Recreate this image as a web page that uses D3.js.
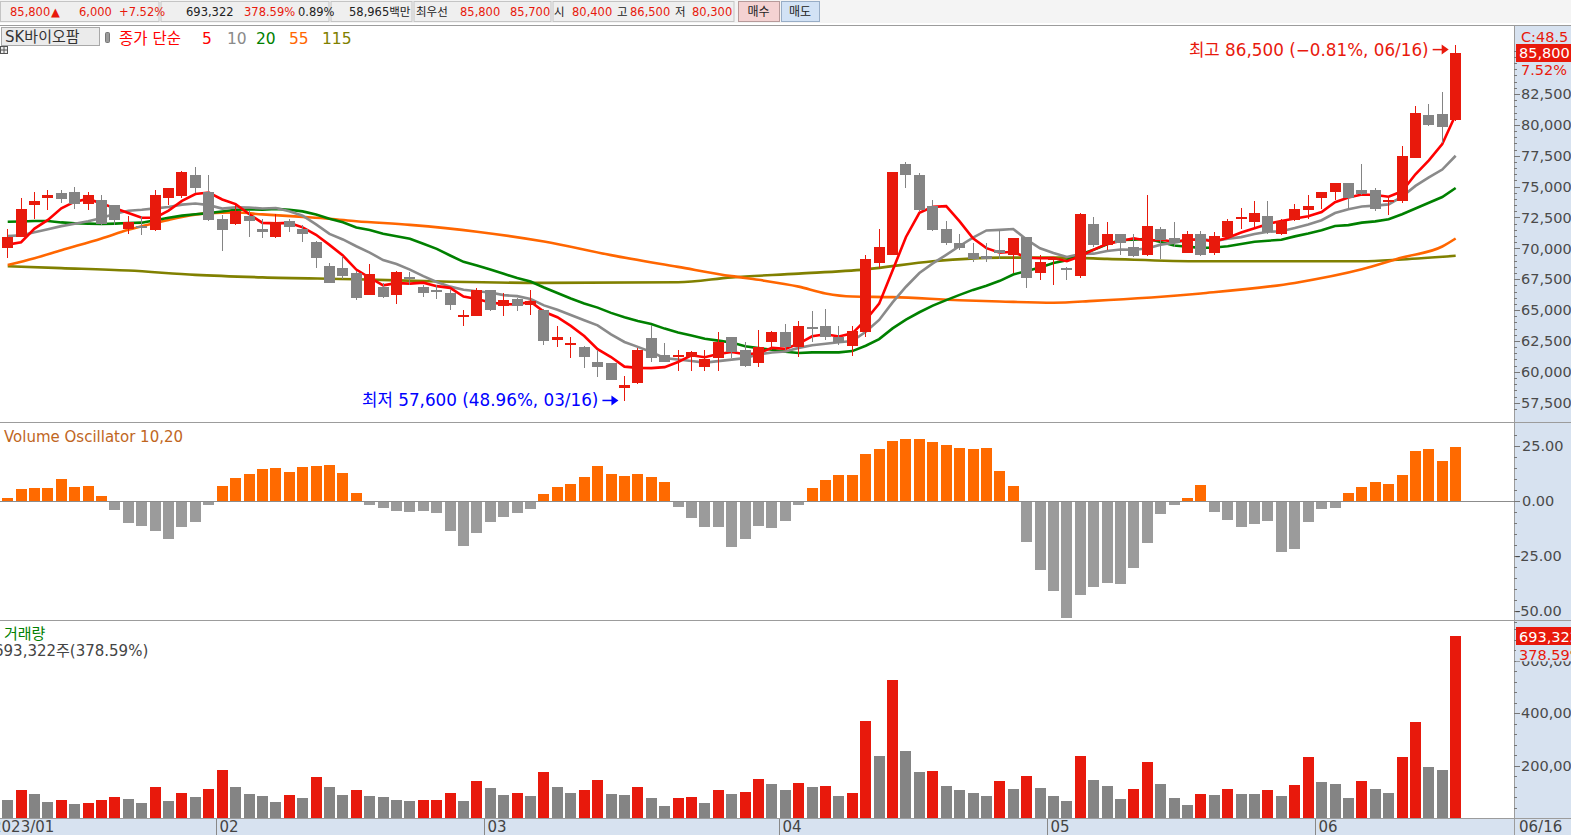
<!DOCTYPE html>
<html>
<head>
<meta charset="utf-8">
<script src="https://cdn.jsdelivr.net/npm/d3@7"></script>
<style>
  html, body { margin: 0; padding: 0; background: #fff; overflow: hidden; }
  svg { display: block; font-family: "DejaVu Sans", "Noto Sans CJK KR", sans-serif; }
</style>
</head>
<body>
<svg id="chart" width="1571" height="835"></svg>
<script>
// daily candles 2023/01 .. 06/16 (109 sessions)
var opens = [70000, 70900, 73500, 74100, 74500, 74600, 73600, 73900, 73500, 71600,
  71800, 71500, 74100, 74200, 75900, 74600, 72400, 72000, 72600, 71600,
  70900, 72200, 71600, 70500, 68600, 68400, 68000, 66200, 66900, 66200,
  67700, 66900, 66600, 66400, 64500, 64500, 66600, 65300, 65900, 65400,
  65000, 62600, 62200, 62000, 60800, 60700, 58700, 59100, 62700, 61400,
  61200, 61200, 60400, 61100, 62800, 61800, 60700, 62400, 63200, 62000,
  63600, 63700, 62800, 62100, 63200, 68800, 69500, 76800, 75900, 73400,
  71600, 70400, 69600, 69400, 69900, 69500, 70900, 68000, 69100, 68400,
  67800, 72000, 70300, 71200, 70100, 69500, 71600, 70800, 69600, 71200,
  69600, 70900, 72400, 72100, 72600, 71200, 72300, 73100, 74100, 74600,
  75300, 74700, 74700, 73800, 73800, 77300, 80800, 80900, 80400]
var highs = [71600, 74100, 74600, 74700, 74700, 75000, 74600, 74300, 73500, 72600,
  72600, 74700, 74900, 76300, 76600, 75900, 72700, 73500, 73000, 72400,
  72800, 72400, 71900, 70600, 68800, 69400, 68200, 68700, 67200, 68200,
  68100, 67000, 67000, 66600, 65000, 66800, 66600, 66400, 66000, 66600,
  65100, 63700, 62800, 62100, 61800, 60700, 59700, 61900, 63800, 62300,
  61800, 61700, 61800, 63200, 62800, 62400, 63400, 63300, 63900, 64100,
  64900, 65100, 63700, 63700, 69500, 71600, 76200, 77000, 76100, 73900,
  72200, 71200, 70400, 70400, 71500, 70800, 70900, 69500, 69300, 68500,
  72900, 72500, 72100, 71200, 71200, 74300, 71700, 72100, 71400, 71400,
  71300, 72400, 73300, 73800, 73800, 72400, 73600, 74300, 74600, 75300,
  75300, 76800, 74900, 74200, 78300, 81500, 81700, 82700, 86500]
var lows = [69200, 70900, 72400, 73100, 73700, 73200, 73100, 71900, 71900, 71200,
  71100, 71400, 73500, 74100, 74500, 72200, 69800, 71900, 70900, 70800,
  70800, 71300, 70500, 68400, 67200, 67500, 65800, 66200, 66000, 65500,
  67000, 66100, 65900, 65000, 63700, 64500, 64900, 64500, 64900, 64600,
  62200, 62000, 61100, 60300, 59600, 59300, 57600, 59000, 60800, 60800,
  60100, 60100, 60100, 60100, 61100, 60400, 60400, 61800, 61800, 61200,
  62400, 62600, 62200, 61300, 62800, 68400, 69500, 74900, 73000, 71400,
  70300, 69900, 68900, 68900, 69100, 68000, 66800, 67400, 67000, 67400,
  67600, 70100, 69900, 69500, 69300, 69400, 69100, 70100, 69600, 69400,
  69500, 70800, 71600, 71700, 71200, 71100, 72200, 72400, 73200, 73900,
  73200, 74300, 73000, 72700, 73700, 77300, 79900, 78500, 80300]
var closes = [70900, 73200, 73800, 74300, 74000, 73600, 74300, 72000, 72300, 72100,
  71700, 74300, 74900, 76200, 74900, 72300, 71500, 73000, 72200, 71300,
  72100, 71700, 71200, 69200, 67200, 67800, 66000, 67900, 66100, 68100,
  67600, 66400, 66500, 65400, 64600, 66600, 65000, 65800, 65300, 65700,
  62500, 62800, 62300, 61200, 60400, 59300, 58900, 61800, 61100, 60800,
  61400, 61600, 61000, 62400, 61600, 60500, 62000, 63200, 62000, 63700,
  63500, 62800, 62300, 63300, 69100, 70100, 76200, 75900, 73100, 71500,
  70400, 70000, 69100, 69100, 69600, 70800, 67600, 68900, 69200, 68300,
  72800, 70300, 71200, 70400, 69400, 71800, 70700, 70400, 71200, 69500,
  71000, 72200, 72500, 72900, 71300, 72200, 73200, 73400, 74600, 75300,
  74100, 74400, 73200, 73900, 77500, 81000, 80000, 79800, 85800]
var volumes = [68700, 106900, 91600, 61100, 68700, 53400, 57300, 68700, 80200, 72500,
  57300, 118300, 64900, 95400, 80200, 110700, 183200, 118300, 91600, 84000,
  61100, 87800, 76300, 156500, 118300, 87800, 106900, 84000, 80200, 68700,
  64900, 68000, 69500, 95400, 64900, 141200, 114500, 87800, 95400, 84000,
  175600, 118300, 95400, 106900, 145000, 91600, 87800, 118300, 76300, 45800,
  76300, 80200, 57300, 106900, 91600, 99200, 148900, 129800, 106900, 133600,
  118300, 122100, 84000, 95400, 370200, 236600, 526700, 255700, 175600, 179400,
  122100, 106900, 95400, 84000, 141200, 110700, 160300, 114500, 84000, 64900,
  236600, 145000, 122100, 72500, 110700, 213700, 129800, 76300, 49600, 91600,
  87800, 110700, 91600, 91000, 106900, 84000, 126000, 232800, 137400, 129800,
  76300, 141200, 110700, 95400, 232800, 366400, 194700, 183133, 693322]
var volOsc = [1.4, 5.5, 5.9, 5.9, 10.0, 6.4, 6.8, 2.3, -3.6, -9.5,
  -10.9, -13.2, -16.8, -11.4, -9.1, -1.4, 6.8, 10.5, 12.3, 14.5,
  15.0, 13.2, 15.5, 15.9, 16.4, 12.7, 3.6, -1.4, -2.7, -4.1,
  -4.5, -4.1, -5.0, -13.2, -20.0, -14.1, -9.1, -6.8, -5.0, -3.2,
  3.2, 6.4, 7.7, 10.9, 15.9, 12.3, 11.4, 12.3, 10.9, 8.6,
  -2.3, -7.3, -11.4, -11.4, -20.5, -16.8, -10.9, -11.8, -8.6, -1.4,
  5.9, 9.5, 11.8, 11.8, 21.4, 23.6, 27.3, 28.2, 28.2, 26.8,
  25.5, 24.1, 23.6, 24.1, 13.6, 6.8, -18.2, -30.9, -40.5, -52.7,
  -42.3, -38.6, -36.8, -37.3, -30.0, -18.6, -5.5, -1.4, 1.4, 7.3,
  -4.5, -8.2, -11.4, -10.0, -8.6, -22.7, -21.4, -9.1, -3.2, -2.7,
  3.6, 6.4, 8.6, 7.7, 11.8, 22.7, 23.6, 18.2, 24.5]

// moving averages: first values (window starts before the chart)
var ma5Head = [70300, 70500, 71600, 72300]
var ma10Head = [71000, 71050, 71300, 71550, 71800, 72000, 72200, 72450, 72800]
var ma20Head = [72160, 72180, 72210, 72210, 72100, 72030, 72000, 71970, 72000, 72050,
  72080, 72280, 72480, 72650, 72760, 72850, 72980, 73120, 73150]
var ma55Idx = [0, 2, 4, 7, 9, 12, 13, 15, 17, 19, 22, 24, 26, 30, 35, 40, 45, 50, 54, 56, 59, 61, 63, 66, 71, 74, 78, 81, 89, 96, 101, 104, 107, 108]
var ma55Val = [68650, 69200, 69850, 70800, 71500, 72300, 72550, 72850, 72900, 72750, 72550, 72400, 72200, 71900, 71350, 70550, 69450, 68500, 67750, 67450, 66900, 66350, 66100, 66050, 65800, 65700, 65600, 65750, 66350, 67200, 68300, 69250, 70150, 70800]
var ma115Idx = [0, 4, 9, 14, 19, 26, 33, 40, 50, 54, 59, 64, 69, 74, 79, 82, 89, 101, 104, 108]
var ma115Val = [68550, 68400, 68200, 67850, 67650, 67500, 67300, 67200, 67250, 67650, 67950, 68300, 68950, 69250, 69250, 69150, 68950, 68950, 69100, 69400]

var monthIdx = [0, 16, 36, 58, 78, 98]
var monthLabels = ['2023/01', '02', '03', '04', '05', '06']
var priceTicks = [57500, 60000, 62500, 65000, 67500, 70000, 72500, 75000, 77500, 80000, 82500]
var voTicks = [25, 0, -25, -50]
var voTickLabels = ['25.00', '0.00', '-25.00', '-50.00']
var volTicks = [200000, 400000, 600000]
var volTickLabels = ['200,000', '400,000', '600,000']

var W = 1571
var H = 835
var plotR = 1514
var RED = '#e8190c'
var GRAY = '#848484'
var AXIS_BG = '#d7e2f0'
var LINE = '#9c9c9c'
var fmt = d3.format(',')

var svg = d3.select('#chart')

var x = d3.scaleBand().domain(d3.range(113)).range([1, 1516]).paddingInner(0.18).paddingOuter(0.09)
function cx (i) { return x(i) + x.bandwidth() / 2 }

var yP = d3.scaleLinear().domain([57500, 82500]).range([402.7, 94])
var yVO = d3.scaleLinear().domain([-50, 25]).range([611, 446])
var yV = d3.scaleLinear().domain([0, 400000]).range([818, 713.2])

svg.append('rect').attr('width', W).attr('height', H).attr('fill', '#fff')
svg.append('rect').attr('x', plotR).attr('y', 26).attr('width', W - plotR).attr('height', H - 26).attr('fill', AXIS_BG)
svg.append('rect').attr('x', 0).attr('y', 818).attr('width', W).attr('height', H - 818).attr('fill', AXIS_BG)

// ---- top quote bar
var topBar = svg.append('g')
topBar.append('rect').attr('x', 0).attr('y', 0).attr('width', W).attr('height', 23).attr('fill', '#f4f4f4')
var sections = [[0.5, 160], [161, 330], [331, 413], [414, 552], [553, 735]]
sections.forEach(function (s) {
  topBar.append('rect').attr('x', s[0]).attr('y', 1.5).attr('width', s[1] - s[0] - 1).attr('height', 20)
    .attr('fill', '#efefef').attr('stroke', '#c4c4c4')
})
var topTexts = [
  ['85,800', 10, RED], ['▲', 51, RED], ['6,000', 79, RED], ['+7.52%', 119, RED],
  ['693,322', 186, '#222'], ['378.59%', 244, RED], ['0.89%', 298, '#222'],
  ['58,965백만', 349, '#222'],
  ['최우선', 416, '#222'], ['85,800', 460, RED], ['85,700', 510, RED],
  ['시', 554, '#222'], ['80,400', 572, RED], ['고', 617, '#222'], ['86,500', 630, RED],
  ['저', 675, '#222'], ['80,300', 692, RED]
]
topBar.selectAll('text.q').data(topTexts).enter().append('text')
  .attr('class', 'q')
  .attr('x', function (d) { return d[1] })
  .attr('y', 16)
  .attr('fill', function (d) { return d[2] })
  .style('font-size', '11.5px')
  .text(function (d) { return d[0] })
var buttons = [['매수', 738, 41, '#f4d2d2', '#b79a9a'], ['매도', 781, 38, '#d2e2f5', '#98adc6']]
buttons.forEach(function (b) {
  topBar.append('rect').attr('x', b[1] + 0.5).attr('y', 1.5).attr('width', b[2]).attr('height', 20)
    .attr('fill', b[3]).attr('stroke', b[4])
  topBar.append('text').attr('x', b[1] + b[2] / 2).attr('y', 16).attr('text-anchor', 'middle')
    .attr('fill', '#222').style('font-size', '12px').text(b[0])
})
svg.append('line').attr('x1', 0).attr('x2', W).attr('y1', 25.5).attr('y2', 25.5).attr('stroke', LINE)

// ---- price panel
svg.append('clipPath').attr('id', 'clipP').append('rect').attr('x', 0).attr('y', 26).attr('width', plotR).attr('height', 395)
var pricePanel = svg.append('g').attr('clip-path', 'url(#clipP)')

function sma (n, head) {
  return closes.map(function (c, i) {
    if (i < n - 1) return head[i]
    return d3.mean(closes.slice(i - n + 1, i + 1))
  })
}
var ma5 = sma(5, ma5Head)
var ma10 = sma(10, ma10Head)
var ma20 = sma(20, ma20Head)

var maLine = d3.line().x(function (d) { return cx(d[0]) }).y(function (d) { return yP(d[1]) })
var maSmooth = d3.line().x(function (d) { return cx(d[0]) }).y(function (d) { return yP(d[1]) }).curve(d3.curveMonotoneX)

var maDefs = [
  {pts: d3.zip(ma115Idx, ma115Val), color: '#808000', smooth: true},
  {pts: d3.zip(ma55Idx, ma55Val), color: '#ff6600', smooth: true},
  {pts: ma20.map(function (v, i) { return [i, v] }), color: '#008000'},
  {pts: ma10.map(function (v, i) { return [i, v] }), color: '#8a8a8a'},
  {pts: ma5.map(function (v, i) { return [i, v] }), color: '#ff0000'}
]
maDefs.forEach(function (m) {
  pricePanel.append('path')
    .attr('d', (m.smooth ? maSmooth : maLine)(m.pts))
    .attr('fill', 'none')
    .attr('stroke', m.color)
    .attr('stroke-width', 2.6)
})

var candles = pricePanel.selectAll('.candle').data(d3.range(closes.length)).enter().append('g')
  .attr('class', 'candle')
  .attr('fill', function (i) { return closes[i] >= opens[i] ? RED : GRAY })
  .attr('shape-rendering', 'crispEdges')
candles.append('rect')
  .attr('x', function (i) { return Math.floor(cx(i)) })
  .attr('width', 1)
  .attr('y', function (i) { return yP(highs[i]) })
  .attr('height', function (i) { return yP(lows[i]) - yP(highs[i]) })
candles.append('rect')
  .attr('x', function (i) { return Math.round(x(i)) })
  .attr('width', Math.round(x.bandwidth()))
  .attr('y', function (i) { return yP(Math.max(opens[i], closes[i])) })
  .attr('height', function (i) { return Math.max(2, Math.abs(yP(opens[i]) - yP(closes[i]))) })

// high / low notes
function arrowTo (g, x1, x2, y, color) {
  g.append('line').attr('x1', x1).attr('x2', x2 - 4).attr('y1', y).attr('y2', y).attr('stroke', color).attr('stroke-width', 1.5)
  g.append('path').attr('d', 'M' + x2 + ',' + y + 'l-7,-5v10z').attr('fill', color)
}
var hiI = d3.maxIndex(highs)
var loI = d3.minIndex(lows)
var last = closes[closes.length - 1]
var hiY = yP(highs[hiI]) + 5
pricePanel.append('text').attr('x', cx(hiI) - 27).attr('y', hiY + 6).attr('text-anchor', 'end')
  .attr('fill', RED).style('font-size', '16.8px')
  .text('최고 ' + fmt(highs[hiI]) + ' (' + d3.format('.2f')((last - highs[hiI]) / highs[hiI] * 100) + '%, 06/16)')
arrowTo(pricePanel, cx(hiI) - 23, cx(hiI) - 7, hiY, RED)
var loY = yP(lows[loI]) - 1
pricePanel.append('text').attr('x', cx(loI) - 26).attr('y', loY + 6).attr('text-anchor', 'end')
  .attr('fill', '#0000ff').style('font-size', '16.8px')
  .text('최저 ' + fmt(lows[loI]) + ' (' + d3.format('.2f')((last - lows[loI]) / lows[loI] * 100) + '%, 03/16)')
arrowTo(pricePanel, cx(loI) - 22, cx(loI) - 6, loY, '#0000ff')

// legend row
svg.append('rect').attr('x', 1.5).attr('y', 27.5).attr('width', 98).attr('height', 18).attr('fill', '#ebebeb').attr('stroke', '#a8a8a8')
svg.append('text').attr('x', 5).attr('y', 42).attr('fill', '#333').style('font-size', '15px').text('SK바이오팜')
svg.append('rect').attr('x', 105.5).attr('y', 32.5).attr('width', 4).attr('height', 10).attr('rx', 1).attr('fill', '#9a9a9a').attr('stroke', '#777')
svg.append('rect').attr('x', 0.5).attr('y', 46.5).attr('width', 7).attr('height', 7).attr('fill', '#eee').attr('stroke', '#555')
svg.append('path').attr('d', 'M0.5,50h7M4,46.5v7').attr('stroke', '#555')
var legend = [['종가 단순', 119, '#ff0000'], ['5', 202, '#ff0000'], ['10', 227, '#8a8a8a'], ['20', 256, '#008000'], ['55', 289, '#ff6600'], ['115', 322, '#808000']]
svg.selectAll('text.lg').data(legend).enter().append('text').attr('class', 'lg')
  .attr('x', function (d) { return d[1] }).attr('y', 44)
  .attr('fill', function (d) { return d[2] })
  .style('font-size', '15.5px')
  .text(function (d) { return d[0] })

// ---- volume oscillator panel
var voPanel = svg.append('g')
voPanel.append('line').attr('x1', 0).attr('x2', plotR).attr('y1', yVO(0) + 0.5).attr('y2', yVO(0) + 0.5).attr('stroke', '#8c8c8c')
voPanel.selectAll('rect').data(volOsc).enter().append('rect')
  .attr('shape-rendering', 'crispEdges')
  .attr('x', function (d, i) { return Math.round(x(i)) })
  .attr('width', Math.round(x.bandwidth()) - 0.5)
  .attr('y', function (d) { return d >= 0 ? yVO(d) : yVO(0) + 1 })
  .attr('height', function (d) { return Math.abs(yVO(d) - yVO(0)) })
  .attr('fill', function (d) { return d >= 0 ? '#ff6a00' : '#9b9b9b' })
voPanel.append('text').attr('x', 4).attr('y', 442).attr('fill', '#c0661e').style('font-size', '15px').text('Volume Oscillator 10,20')

// ---- volume panel
var volPanel = svg.append('g')
volPanel.selectAll('rect').data(volumes).enter().append('rect')
  .attr('shape-rendering', 'crispEdges')
  .attr('x', function (d, i) { return Math.round(x(i)) })
  .attr('width', Math.round(x.bandwidth()) - 0.5)
  .attr('y', function (d) { return yV(d) })
  .attr('height', function (d) { return yV(0) - yV(d) })
  .attr('fill', function (d, i) { return i > 0 && d > volumes[i - 1] ? RED : GRAY })
var lastVol = volumes[volumes.length - 1]
var volPct = d3.format('.2f')(lastVol / volumes[volumes.length - 2] * 100)
volPanel.append('text').attr('x', 4).attr('y', 639).attr('fill', '#008000').style('font-size', '15px').text('거래량')
volPanel.append('text').attr('x', -6).attr('y', 656).attr('fill', '#444').style('font-size', '15px').text(fmt(lastVol) + '주(' + volPct + '%)')

// ---- frame lines
svg.append('line').attr('x1', 0).attr('x2', W).attr('y1', 422.5).attr('y2', 422.5).attr('stroke', LINE)
svg.append('line').attr('x1', 0).attr('x2', W).attr('y1', 620.5).attr('y2', 620.5).attr('stroke', LINE)
svg.append('line').attr('x1', 0).attr('x2', W).attr('y1', 818.5).attr('y2', 818.5).attr('stroke', LINE)
svg.append('line').attr('x1', plotR + 0.5).attr('x2', plotR + 0.5).attr('y1', 26).attr('y2', H).attr('stroke', LINE)

// ---- right axes
var axisG = svg.append('g').style('font-size', '14.5px').attr('fill', '#4a4a4a')
function minorTicks (vals, scale, len) {
  vals.forEach(function (v) {
    var y = Math.round(scale(v)) + 0.5
    axisG.append('line').attr('x1', plotR).attr('x2', plotR + len).attr('y1', y).attr('y2', y).attr('stroke', '#777')
  })
}
minorTicks(d3.range(57000, 86001, 500), yP, 3)
minorTicks(priceTicks, yP, 6)
priceTicks.forEach(function (v) {
  axisG.append('text').attr('x', 1521).attr('y', yP(v)).attr('dy', '0.36em').text(fmt(v))
})
minorTicks(d3.range(-55, 31, 5), yVO, 3)
minorTicks(voTicks, yVO, 6)
voTicks.forEach(function (v, k) {
  axisG.append('text').attr('x', v < 0 ? 1515 : 1522).attr('y', yVO(v)).attr('dy', '0.36em').text(voTickLabels[k])
})
minorTicks(d3.range(40000, 720001, 40000).filter(function (v) { return yV(v) > 624 }), yV, 3)
minorTicks(volTicks, yV, 6)
volTicks.forEach(function (v, k) {
  axisG.append('text').attr('x', 1521).attr('y', yV(v)).attr('dy', '0.36em').text(volTickLabels[k])
})

// current price / volume tags
axisG.append('text').attr('x', 1521).attr('y', 37).attr('dy', '0.36em').attr('fill', RED).text('C:48.5')
axisG.append('rect').attr('x', 1516).attr('y', Math.round(yP(last)) - 9).attr('width', 60).attr('height', 18).attr('fill', RED)
axisG.append('text').attr('x', 1519).attr('y', yP(last)).attr('dy', '0.36em').attr('fill', '#fff').text(fmt(last))
axisG.append('text').attr('x', 1521).attr('y', yP(last) + 17).attr('dy', '0.36em').attr('fill', RED)
  .text(d3.format('.2f')((last - closes[closes.length - 2]) / closes[closes.length - 2] * 100) + '%')
axisG.append('rect').attr('x', 1516).attr('y', Math.round(yV(lastVol)) - 9).attr('width', 60).attr('height', 18).attr('fill', RED)
axisG.append('text').attr('x', 1519).attr('y', yV(lastVol)).attr('dy', '0.36em').attr('fill', '#fff').text(fmt(lastVol))
axisG.append('rect').attr('x', 1516).attr('y', yV(lastVol) + 10).attr('width', 60).attr('height', 15).attr('fill', AXIS_BG)
axisG.append('text').attr('x', 1519).attr('y', yV(lastVol) + 18).attr('dy', '0.36em').attr('fill', RED).text(volPct + '%')

// ---- date strip
var dateG = svg.append('g').style('font-size', '15px').attr('fill', '#444')
monthIdx.forEach(function (idx, k) {
  var tx = Math.round(cx(idx) - x.step() / 2) + 0.5
  if (k > 0) dateG.append('line').attr('x1', tx).attr('x2', tx).attr('y1', 819).attr('y2', H).attr('stroke', '#888')
  dateG.append('text').attr('x', k === 0 ? -8 : tx + 3).attr('y', 832).text(monthLabels[k])
})
dateG.append('text').attr('x', 1519).attr('y', 832).text('06/16')
</script>
</body>
</html>
